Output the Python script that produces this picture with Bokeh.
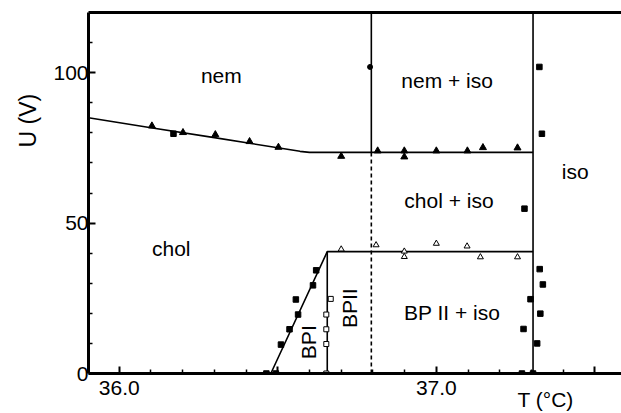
from bokeh.plotting import figure
from bokeh.models import Range1d, FixedTicker, LinearAxis, Label, Title
from bokeh.embed import file_html
from bokeh.resources import INLINE

# ---------------- data ----------------
# phase boundaries
nem_chol_T = [35.903, 36.10, 36.30, 36.50, 36.57, 36.60, 37.305]
nem_chol_U = [85.0, 81.7, 78.4, 75.05, 73.85, 73.5, 73.5]

mid_solid_T = [36.795, 36.795]
mid_solid_U = [73.5, 120.0]
mid_dash_T = [36.795, 36.795]
mid_dash_U = [0.0, 73.5]

iso_T = [37.305, 37.305]
iso_U = [0.0, 120.0]

bp_T = [36.478, 36.656, 37.305]
bp_U = [0.0, 40.5, 40.5]
bp12_T = [36.656, 36.656]
bp12_U = [0.0, 40.5]

# measured points
tri_T = [36.103, 36.201, 36.303, 36.411, 36.502, 36.700, 36.815, 36.899,
         36.899, 37.000, 37.098, 37.147, 37.256]
tri_U = [82.3, 80.1, 79.4, 77.1, 75.2, 72.2, 74.0, 74.0, 72.0, 74.0, 74.0,
         75.1, 75.0]

sq_T = [36.171, 36.464, 36.494, 36.510, 36.537, 36.557, 36.564, 36.611,
        36.621, 37.270, 37.275, 37.278, 37.297, 37.305, 37.318, 37.325,
        37.326, 37.328, 37.333, 37.336]
sq_U = [79.7, 0.0, 0.0, 9.6, 14.7, 24.6, 19.6, 29.3, 34.3, 0.0, 14.8, 54.8,
        24.7, 0.0, 10.0, 101.9, 34.7, 19.9, 79.7, 29.6]

osq_T = [36.653, 36.653, 36.653, 36.653, 36.667]
osq_U = [0.0, 9.8, 14.7, 19.6, 24.8]

otri_T = [36.700, 36.810, 36.899, 36.899, 37.000, 37.097, 37.139, 37.256]
otri_U = [41.3, 42.7, 40.6, 38.8, 43.2, 42.3, 38.7, 38.7]

circ_T = [36.791]
circ_U = [101.9]

x_major = [36.0, 36.5, 37.0, 37.5]
x_minor = [35.9, 36.1, 36.2, 36.3, 36.4, 36.6, 36.7, 36.8, 36.9, 37.1, 37.2,
           37.3, 37.4]
x_labels = {36.0: "36.0", 36.5: "", 37.0: "37.0", 37.5: ""}
y_major = [0, 50, 100]
y_minor = [10, 20, 30, 40, 60, 70, 80, 90, 110]

FONT = "Liberation Sans"

p = figure(width=621, height=413, output_backend="svg", toolbar_location=None,
           x_range=Range1d(35.903, 37.584), y_range=Range1d(0, 120),
           min_border_left=88, min_border_right=0, min_border_top=12,
           min_border_bottom=40)
p.grid.visible = False
p.outline_line_color = None
p.background_fill_color = "white"

for ax in (p.xaxis[0], p.yaxis[0]):
    ax.axis_line_width = 3
    ax.axis_line_color = "black"
    ax.major_tick_in = 7
    ax.major_tick_out = 0
    ax.minor_tick_in = 4
    ax.minor_tick_out = 0
    ax.major_tick_line_width = 2
    ax.minor_tick_line_width = 1.5
    ax.major_label_text_font = FONT
    ax.major_label_text_font_size = "21px"
    ax.major_label_text_color = "black"

p.xaxis[0].major_label_standoff = 7
p.yaxis[0].major_label_standoff = 0
p.xaxis[0].ticker = FixedTicker(ticks=x_major, minor_ticks=x_minor)
p.xaxis[0].major_label_overrides = x_labels
p.yaxis[0].ticker = FixedTicker(ticks=y_major, minor_ticks=y_minor)

top = LinearAxis(ticker=FixedTicker(ticks=[]), axis_line_width=3,
                 major_label_text_font_size="0px",
                 major_tick_line_color=None, minor_tick_line_color=None)
p.add_layout(top, "above")

LW = 1.6
p.line(nem_chol_T, nem_chol_U, line_color="black", line_width=LW)
p.line(mid_solid_T, mid_solid_U, line_color="black", line_width=LW)
p.line(mid_dash_T, mid_dash_U, line_color="black", line_width=LW,
       line_dash="4 3")
p.line(iso_T, iso_U, line_color="black", line_width=LW)
p.line(bp_T, bp_U, line_color="black", line_width=LW)
p.line(bp12_T, bp12_U, line_color="black", line_width=LW)

p.scatter(tri_T, tri_U, marker="triangle", size=7, fill_color="black",
          line_color="black")
p.scatter(sq_T, sq_U, marker="square", size=5.5, fill_color="black",
          line_color="black")
p.scatter(osq_T, osq_U, marker="square", size=5, fill_color="white",
          line_color="black", line_width=1)
p.scatter(otri_T, otri_U, marker="triangle", size=6, fill_color="white",
          line_color="black", line_width=1)
p.scatter(circ_T, circ_U, marker="circle", size=5, fill_color="black",
          line_color="black")

def lab(x, y, t, size="21px", angle=0.0):
    p.add_layout(Label(x=x, y=y, text=t, text_font=FONT, text_font_size=size,
                       text_align="center", text_baseline="middle",
                       text_color="black", angle=angle))

lab(36.322, 99.1, "nem")
lab(36.164, 41.6, "chol")
lab(37.034, 97.4, "nem + iso")
lab(37.438, 67.2, "iso")
lab(37.040, 57.6, "chol + iso")
lab(37.050, 20.4, "BP II + iso")
lab(36.596, 10.4, "BPI", angle=1.5708)
lab(36.726, 21.7, "BPII", angle=1.5708)

# axis titles outside the frame
t_title = Title(text="T (°C)", align="left", offset=429, text_font=FONT,
                text_font_size="21px", text_font_style="normal",
                text_color="black")
u_title = Title(text="U (V)", align="left", offset=226, text_font=FONT,
                text_font_size="23px", text_font_style="normal",
                text_color="black")
for t, s in ((t_title, -26), (u_title, 19)):
    try:
        t.standoff = s
    except Exception:
        pass
p.add_layout(t_title, "below")
p.add_layout(u_title, "left")

open("out.html", "w").write(file_html(p, INLINE))
